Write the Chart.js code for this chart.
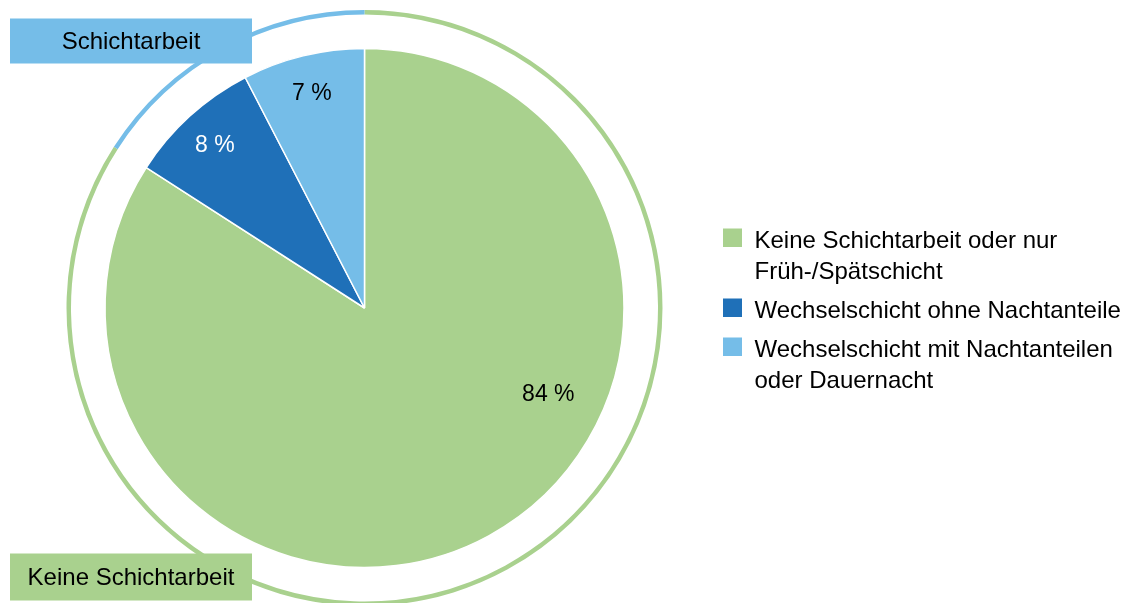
<!DOCTYPE html>
<html>
<head>
<meta charset="utf-8">
<script src="https://cdn.jsdelivr.net/npm/chart.js@4.4.0/dist/chart.umd.min.js"></script>
<style>
  html, body { margin: 0; padding: 0; background: #ffffff; overflow: hidden; }
  canvas { display: block; }
</style>
</head>
<body>
<canvas id="c" width="1124" height="603"></canvas>
<script>
// ---- Data ----
const categories = [
  ["Keine Schichtarbeit oder nur", "Früh-/Spätschicht"],
  ["Wechselschicht ohne Nachtanteile"],
  ["Wechselschicht mit Nachtanteilen", "oder Dauernacht"]
];
const shares = [84.1, 8.3, 7.6];
const shareLabels = ["84 %", "8 %", "7 %"];
const groupNames = ["Keine Schichtarbeit", "Schichtarbeit"];
const groupShares = [84.1, 15.9];

// ---- Styles ----
const GREEN = "#A9D18E";
const DARK = "#1F70B8";
const LIGHT = "#75BDE8";
const sliceColors = [GREEN, DARK, LIGHT];
const groupColors = [GREEN, LIGHT];
const labelColors = ["#000000", "#ffffff", "#000000"];
const FONT = '"Liberation Sans", Arial, Helvetica, sans-serif';
// label placement inside slices: fraction along slice angle, fraction of radius
const labelPlace = [[0.379, 0.78], [0.5, 0.857], [0.5, 0.857]];

const overlay = {
  id: "overlay",
  afterDatasetsDraw(chart) {
    const ctx = chart.ctx;
    ctx.save();
    // value labels inside pie
    const meta = chart.getDatasetMeta(2);
    ctx.font = "23px " + FONT;
    ctx.textAlign = "center";
    ctx.textBaseline = "alphabetic";
    meta.data.forEach((el, i) => {
      const p = el.getProps(["x", "y", "startAngle", "endAngle", "outerRadius"], true);
      const a = p.startAngle + (p.endAngle - p.startAngle) * labelPlace[i][0];
      const r = p.outerRadius * labelPlace[i][1];
      ctx.fillStyle = labelColors[i];
      ctx.fillText(shareLabels[i], p.x + Math.cos(a) * r, p.y + Math.sin(a) * r + 8.3);
    });

    // group boxes
    ctx.font = "24px " + FONT;
    const boxes = [
      { name: groupNames[1], color: groupColors[1], x: 10, y: 18.5, w: 242, h: 45, base: 49.3 },
      { name: groupNames[0], color: groupColors[0], x: 10, y: 553.5, w: 242, h: 47, base: 585 }
    ];
    boxes.forEach(b => {
      ctx.fillStyle = b.color;
      ctx.fillRect(b.x, b.y, b.w, b.h);
      ctx.fillStyle = "#000000";
      ctx.textAlign = "center";
      ctx.fillText(b.name, b.x + b.w / 2, b.base);
    });

    // legend
    ctx.textAlign = "left";
    let y = 247.5;
    categories.forEach((lines, i) => {
      ctx.fillStyle = sliceColors[i];
      ctx.fillRect(723, y - 19, 19, 18.5);
      ctx.fillStyle = "#000000";
      lines.forEach((t, k) => ctx.fillText(t, 754.5, y + k * 31));
      y += (lines.length - 1) * 31 + 39;
    });
    ctx.restore();
  }
};

new Chart(document.getElementById("c"), {
  type: "pie",
  data: {
    labels: categories.map(l => l.join(" ")),
    datasets: [
      { data: groupShares, backgroundColor: groupColors, borderWidth: 0, weight: 4.5 },
      { data: groupShares, backgroundColor: "rgba(0,0,0,0)", borderWidth: 0, weight: 34 },
      { data: shares, backgroundColor: sliceColors, borderColor: "#ffffff", borderWidth: 1.5, weight: 259.5 }
    ]
  },
  options: {
    responsive: false,
    devicePixelRatio: 1,
    animation: false,
    radius: 298,
    cutout: 0,
    layout: { padding: { left: 0, right: 395, top: 13, bottom: 0 } },
    plugins: {
      legend: { display: false },
      tooltip: { enabled: false },
      title: { display: false }
    },
    events: []
  },
  plugins: [overlay]
});
</script>
</body>
</html>
